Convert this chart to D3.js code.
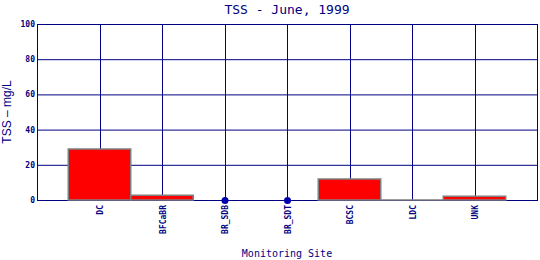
<!DOCTYPE html>
<meta charset="utf-8">
<title>TSS - June, 1999</title>
<style>
  body { margin: 0; background: #fff; }
  text { fill: #000080; }
</style>
<svg width="540" height="260"></svg>
<script src="https://cdn.jsdelivr.net/npm/d3@7/dist/d3.min.js"></script>
<script>

var sites = ["DC", "BFCaBR", "BR_SDB", "BR_SDT", "BCSC", "LDC", "UNK"],
    tss = [29, 2.7, null, null, 12, 0, 2.1],   // null = no sample (drawn as dot)
    yTicks = [0, 20, 40, 60, 80, 100];

var svg = d3.select("svg"),
    plotL = 37, plotR = 537, plotT = 24, plotB = 200,
    navy = "#000080";

var x = d3.scaleLinear().domain([0, sites.length + 1]).range([plotL, plotR]);
var y = d3.scaleLinear().domain([0, 100]).range([plotB, plotT]);

// grid
svg.selectAll("line.hgrid")
    .data(yTicks)
    .enter().append("line")
    .attr("x1", plotL).attr("x2", plotR)
    .attr("y1", function(d) { return y(d) + 0.5; })
    .attr("y2", function(d) { return y(d) + 0.5; })
    .attr("stroke", navy).attr("stroke-width", 1);

svg.selectAll("line.vgrid")
    .data(sites)
    .enter().append("line")
    .attr("x1", function(d, i) { return Math.round(x(i + 1)) + 0.5; })
    .attr("x2", function(d, i) { return Math.round(x(i + 1)) + 0.5; })
    .attr("y1", plotT).attr("y2", plotB)
    .attr("stroke", navy).attr("stroke-width", 1);

// frame
svg.append("rect")
    .attr("x", plotL + 0.5).attr("y", plotT + 0.5)
    .attr("width", plotR - plotL).attr("height", plotB - plotT)
    .attr("fill", "none").attr("stroke", navy).attr("stroke-width", 1);

// bars (paths so a zero value still shows its grey outline)
var bw = x(1) - x(0);
svg.selectAll("path.bar")
    .data(tss.map(function(v, i) { return {v: v, i: i}; }).filter(function(d) { return d.v !== null; }))
    .enter().append("path")
    .attr("class", "bar")
    .attr("d", function(d) {
        var x0 = x(d.i + 1) - bw / 2, x1 = x0 + bw, y0 = y(0), y1 = y(d.v);
        return "M" + x0 + "," + y0 + "V" + y1 + "H" + x1 + "V" + y0 + "Z";
    })
    .attr("fill", "#ff0000")
    .attr("stroke", "#808080")
    .attr("stroke-width", 1.5);

// missing samples
svg.selectAll("circle")
    .data(tss.map(function(v, i) { return {v: v, i: i}; }).filter(function(d) { return d.v === null; }))
    .enter().append("circle")
    .attr("cx", function(d) { return x(d.i + 1) + 0.5; })
    .attr("cy", y(0) + 0.5)
    .attr("r", 3.5)
    .attr("fill", "#0000b0");

// y tick labels
svg.selectAll("text.ytick")
    .data(yTicks)
    .enter().append("text")
    .attr("x", plotL - 2)
    .attr("y", function(d) { return y(d) + 3; })
    .attr("text-anchor", "end")
    .style("font", "bold 8px 'DejaVu Sans Mono'")
    .text(function(d) { return d; });

// x tick labels
svg.selectAll("text.xtick")
    .data(sites)
    .enter().append("text")
    .attr("transform", function(d, i) { return "translate(" + (x(i + 1) + 3.5) + "," + (plotB + 5) + ") rotate(-90)"; })
    .attr("text-anchor", "end")
    .style("font", "bold 8px 'DejaVu Sans Mono'")
    .text(function(d) { return d; });

// titles
svg.append("text")
    .attr("x", (plotL + plotR) / 2).attr("y", 14)
    .attr("text-anchor", "middle")
    .style("font", "13px 'DejaVu Sans Mono'")
    .text("TSS - June, 1999");

svg.append("text")
    .attr("x", (plotL + plotR) / 2).attr("y", 257)
    .attr("text-anchor", "middle")
    .style("font", "10px 'DejaVu Sans Mono'")
    .text("Monitoring Site");

svg.append("text")
    .attr("transform", "translate(11," + ((plotT + plotB) / 2) + ") rotate(-90)")
    .attr("text-anchor", "middle")
    .style("font", "12px 'Liberation Sans'")
    .text("TSS \u2013 mg/L");

</script>
